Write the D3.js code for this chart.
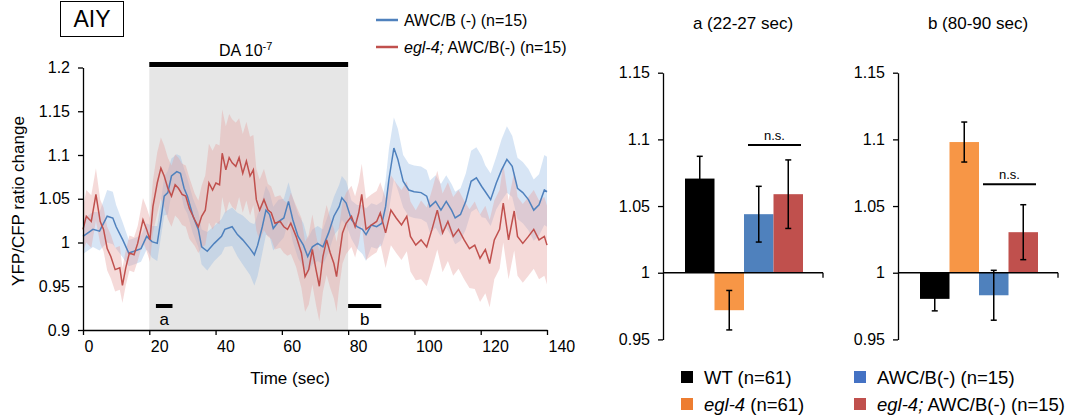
<!DOCTYPE html>
<html><head><meta charset="utf-8">
<script src="https://cdn.jsdelivr.net/npm/d3@7"></script>
<style>
html,body{margin:0;padding:0;background:#fff;}
svg{display:block;font-family:"Liberation Sans",Arial,sans-serif;}
</style></head>
<body>
<svg id="chart" width="1081" height="418"></svg>
<script>
// ---------------- DATA ----------------
const blueTime = [0,3,5,7.3,9,10,12,13.8,15.4,17.5,19.2,20.8,22.4,23.5,24.5,25.6,26.7,28.3,29.4,30.5,31.5,33.2,34.8,35.8,37.5,39.6,41.8,42.8,45,46.6,48.2,50.4,51.7,52.7,54.1,55.2,56.3,57.4,59,60.6,62,63.3,64.9,66.5,67.8,69.2,70.8,72.4,74.1,75.7,77.3,78.1,79.4,81,82.7,84.3,85.4,87,88.6,90.2,91.3,92.3,93.8,95,96.6,98.3,99.9,102,103.7,104.7,106.4,108,109.6,111.2,112.3,113.9,115.5,117.1,118.7,120.3,121.4,123,124.7,126.3,127.9,129.5,131.1,132.7,134.4,136,137.6,139.2,140];
const blueMean = [1.007,1.015,1.013,1.03,1.028,1.018,1.003,0.988,0.99,0.993,1.007,1.001,0.999,1.026,1.053,1.057,1.076,1.081,1.079,1.062,1.053,1.03,1.015,0.995,0.99,0.999,1.007,1.015,1.018,1.009,1.003,0.993,0.986,0.997,1.018,1.037,1.032,1.016,1.024,1.028,1.047,1.026,1.007,0.997,0.984,0.995,0.999,0.995,1.011,1.03,1.041,1.051,1.045,1.026,1.018,1.015,1.009,1.02,1.018,1.022,1.041,1.072,1.108,1.095,1.07,1.06,1.058,1.057,1.053,1.041,1.047,1.037,1.047,1.037,1.028,1.032,1.047,1.07,1.074,1.064,1.058,1.049,1.068,1.083,1.095,1.087,1.062,1.057,1.049,1.037,1.043,1.06,1.058];
const blueSem = [0.02,0.02,0.022,0.03,0.03,0.025,0.02,0.015,0.015,0.015,0.015,0.018,0.02,0.02,0.022,0.025,0.02,0.02,0.02,0.022,0.02,0.02,0.02,0.02,0.022,0.02,0.02,0.02,0.022,0.025,0.028,0.03,0.035,0.035,0.03,0.028,0.025,0.025,0.025,0.022,0.022,0.025,0.025,0.025,0.02,0.02,0.02,0.02,0.022,0.022,0.025,0.025,0.025,0.022,0.025,0.028,0.03,0.025,0.025,0.025,0.03,0.035,0.035,0.035,0.03,0.03,0.03,0.03,0.03,0.03,0.03,0.03,0.03,0.03,0.03,0.03,0.032,0.035,0.035,0.035,0.03,0.03,0.03,0.035,0.038,0.035,0.035,0.035,0.035,0.035,0.035,0.04,0.04];
const redTime = [0,1,2.5,3.9,5.2,6.2,7.3,8.4,9.7,11.1,11.9,12.9,14,15.4,16.5,18.1,19.2,20.2,21.1,22.4,23.5,24.5,25.6,26.7,27.8,28.8,29.9,31,32.1,33.7,34.8,35.8,36.9,38,39.1,40.1,41.2,42,43.1,44.1,45,46.1,47.1,48.2,49.3,50.4,51.4,52.3,53.3,54.6,55.8,56.8,57.9,59.5,60.6,61.7,62.7,64.3,65.9,67,68.1,69.2,70.3,71.3,72.4,73.5,74.6,75.7,76.5,77.3,78.3,79.4,81,82.1,83.2,84.1,85.4,87,88.6,89.7,91.3,92.9,94.5,96.1,97.7,98.8,100.4,102,103.7,105.3,106.9,108.5,110.1,111.7,113.3,115,116.6,118.2,119.8,121.4,122.7,124.1,125.7,126.8,128.4,130.1,131.1,132.7,134.4,136,137.6,139.2,140];
const redMean = [1.015,1.03,1.024,1.055,1.024,1.015,0.993,0.984,0.969,0.971,0.951,0.971,0.988,0.986,0.999,1.026,1.015,1.003,1.041,1.068,1.085,1.076,1.062,1.053,1.066,1.062,1.055,1.053,1.039,1.026,1.018,1.03,1.037,1.068,1.06,1.068,1.066,1.102,1.083,1.097,1.091,1.087,1.097,1.079,1.093,1.076,1.083,1.049,1.037,1.049,1.037,1.034,1.022,1.024,1.018,1.015,1.022,1.007,0.988,0.961,0.969,0.992,0.969,0.95,0.984,1.003,0.988,0.976,0.961,0.984,1.011,1.022,1.03,1.018,1.034,1.055,1.015,1.02,1.024,1.034,1.011,1.037,1.028,1.02,1.03,1.007,0.997,1.003,0.995,1.015,1.037,1.011,1.024,1.007,1.015,1.003,0.993,0.997,0.982,0.992,0.976,1.003,1.015,1.045,1.003,1.036,1.007,0.999,1.007,1.015,1.003,1.007,0.997];
const redSem = [0.025,0.03,0.03,0.03,0.025,0.025,0.025,0.025,0.025,0.025,0.02,0.02,0.02,0.02,0.02,0.025,0.025,0.025,0.03,0.035,0.035,0.035,0.035,0.035,0.035,0.035,0.035,0.035,0.035,0.03,0.03,0.035,0.04,0.045,0.045,0.045,0.045,0.05,0.05,0.05,0.05,0.05,0.045,0.045,0.045,0.045,0.04,0.035,0.035,0.035,0.03,0.03,0.03,0.03,0.03,0.03,0.035,0.035,0.04,0.04,0.04,0.04,0.04,0.04,0.04,0.04,0.04,0.04,0.04,0.035,0.035,0.035,0.035,0.035,0.035,0.035,0.035,0.035,0.035,0.035,0.04,0.04,0.04,0.04,0.04,0.04,0.04,0.045,0.045,0.045,0.045,0.045,0.045,0.045,0.045,0.045,0.045,0.05,0.05,0.05,0.05,0.045,0.045,0.045,0.045,0.045,0.045,0.045,0.045,0.045,0.045,0.045,0.045];

const traceYTicks = [0.9,0.95,1,1.05,1.1,1.15,1.2];
const traceXTicks = [0,20,40,60,80,100,120,140];
const stimulus = [20,80];        // DA application (sec)
const windowA = [22,27];         // analysis window a
const windowB = [80,90];         // analysis window b

const barGroups = ["WT (n=61)","egl-4 (n=61)","AWC/B(-) (n=15)","egl-4; AWC/B(-) (n=15)"];
const barsA = [1.0706,0.9719,1.0439,1.0589];
const errA  = [0.0167,0.0148,0.0209,0.0257];
const barsB = [0.9804,1.098,0.9831,1.0304];
const errB  = [0.009,0.015,0.0187,0.0206];
const nsLevelA = 1.0957;
const nsLevelB = 1.0663;
const barYTicks = [0.95,1,1.05,1.1,1.15];

// ---------------- DRAW ----------------
const svg = d3.select("#chart");
const FONT = '"Liberation Sans",Arial,sans-serif';
const blue = "#4F81BD", red = "#C0504D";

// AIY box
svg.append("rect").attr("x",60.5).attr("y",1.5).attr("width",63).attr("height",35)
  .attr("fill","none").attr("stroke","#000").attr("stroke-width",1);
svg.append("text").attr("x",92).attr("y",27).attr("text-anchor","middle")
  .attr("font-size",23).text("AIY");

const x = d3.scaleLinear().domain([0,140]).range([83,547]);
const y = d3.scaleLinear().domain([0.9,1.2]).range([330,67.5]);

// stimulus shading
svg.append("rect").attr("x",x(stimulus[0])).attr("width",x(stimulus[1])-x(stimulus[0]))
  .attr("y",y(1.2)).attr("height",y(0.9)-y(1.2)).attr("fill","#e6e6e6");
svg.append("rect").attr("x",x(stimulus[0])).attr("width",x(stimulus[1])-x(stimulus[0]))
  .attr("y",62).attr("height",5).attr("fill","#000");
const da = svg.append("text").attr("x",(x(stimulus[0])+x(stimulus[1]))/2-3).attr("y",56)
  .attr("text-anchor","middle").attr("font-size",16);
da.append("tspan").text("DA 10");
da.append("tspan").attr("dy",-6).attr("font-size",11).text("-7");

// bands
function bandArea(){
  return d3.area().x(d=>x(d.t)).y0(d=>y(d.v-d.e)).y1(d=>y(d.v+d.e));
}
const blueData = blueTime.map((t,i)=>({t,v:blueMean[i],e:blueSem[i]}));
const redData = redTime.map((t,i)=>({t,v:redMean[i],e:redSem[i]}));
svg.append("path").datum(blueData).attr("d",bandArea()).attr("fill","#8db4e2").attr("fill-opacity",0.35);
svg.append("path").datum(redData).attr("d",bandArea()).attr("fill","#e6a3a1").attr("fill-opacity",0.4);
const line = d3.line().x(d=>x(d.t)).y(d=>y(d.v));
svg.append("path").datum(blueData).attr("d",line).attr("fill","none").attr("stroke",blue).attr("stroke-width",1.5);
svg.append("path").datum(redData).attr("d",line).attr("fill","none").attr("stroke",red).attr("stroke-width",1.5);

// window markers
[[windowA,"a"],[windowB,"b"]].forEach(([w,l])=>{
  svg.append("rect").attr("x",x(w[0])).attr("width",x(w[1])-x(w[0])).attr("y",304).attr("height",4).attr("fill","#000");
  svg.append("text").attr("x",(x(w[0])+x(w[1]))/2).attr("y",325).attr("text-anchor","middle").attr("font-size",17).text(l);
});

// axes
const yAx = svg.append("g").attr("transform",`translate(${x(0)},0)`)
  .call(d3.axisLeft(y).tickValues(traceYTicks).tickSize(5).tickSizeOuter(0).tickPadding(8).tickFormat(d3.format("~g")));
const xAx = svg.append("g").attr("transform",`translate(0,${y(0.9)})`)
  .call(d3.axisBottom(x).tickValues(traceXTicks).tickSize(5).tickSizeOuter(0).tickPadding(6));
xAx.selectAll("text").attr("text-anchor","start").attr("dx",1);
[yAx,xAx].forEach(g=>{
  g.selectAll("text").attr("font-size",16).attr("font-family",FONT).attr("fill","#000");
  g.selectAll("path,line").attr("stroke","#000").attr("stroke-width",1.3);
});
svg.append("text").attr("transform","translate(24,201) rotate(-90)").attr("text-anchor","middle")
  .attr("font-size",17).text("YFP/CFP ratio change");
svg.append("text").attr("x",290).attr("y",384).attr("text-anchor","middle").attr("font-size",17).text("Time (sec)");

// top legend
const lg = [[blue,"AWC/B (-) (n=15)",null],[red," AWC/B(-) (n=15)","egl-4;"]];
lg.forEach(([c,t,it],i)=>{
  const yy = 20 + i*27;
  svg.append("line").attr("x1",376).attr("x2",398).attr("y1",yy).attr("y2",yy).attr("stroke",c).attr("stroke-width",2.5);
  const tx = svg.append("text").attr("x",404).attr("y",yy+6).attr("font-size",16);
  if(it) tx.append("tspan").attr("font-style","italic").text(it);
  tx.append("tspan").text(t);
});

// bar charts
const barColors = ["#000000","#F79646","#4F81BD","#C0504D"];
const legendColors = ["#000000","#ED7D31","#4472C4","#C0504D"];
function barChart(x0, title, vals, errs, nsLevel){
  const yb = d3.scaleLinear().domain([0.95,1.15]).range([339.4,72.7]);
  const xb = d3.scaleBand().domain(barGroups).range([x0+22,x0+140]).padding(0);
  svg.append("text").attr("x",x0+80).attr("y",29).attr("text-anchor","middle").attr("font-size",17).text(title);
  svg.selectAll(null).data(vals).enter().append("rect")
    .attr("x",(d,i)=>xb(barGroups[i])).attr("width",xb.bandwidth())
    .attr("y",d=>yb(Math.max(d,1))).attr("height",d=>Math.abs(yb(d)-yb(1)))
    .attr("fill",(d,i)=>barColors[i]);
  const ax = svg.append("g").attr("transform",`translate(${x0},0)`)
    .call(d3.axisLeft(yb).tickValues(barYTicks).tickSize(5).tickSizeOuter(0).tickPadding(8).tickFormat(d3.format("~g")));
  ax.selectAll("text").attr("font-size",16).attr("font-family",FONT).attr("fill","#000");
  ax.selectAll("path,line").attr("stroke","#000").attr("stroke-width",1.3);
  svg.append("line").attr("x1",x0).attr("x2",x0+160).attr("y1",yb(1)).attr("y2",yb(1)).attr("stroke","#000").attr("stroke-width",1.3);
  svg.append("line").attr("x1",x0+160).attr("x2",x0+160).attr("y1",yb(1)).attr("y2",yb(1)+5).attr("stroke","#000").attr("stroke-width",1.3);
  vals.forEach((v,i)=>{
    const cx = xb(barGroups[i])+xb.bandwidth()/2;
    const g = svg.append("g").attr("stroke","#000").attr("stroke-width",1.5);
    g.append("line").attr("x1",cx).attr("x2",cx).attr("y1",yb(v-errs[i])).attr("y2",yb(v+errs[i]));
    g.append("line").attr("x1",cx-3).attr("x2",cx+3).attr("y1",yb(v-errs[i])).attr("y2",yb(v-errs[i]));
    g.append("line").attr("x1",cx-3).attr("x2",cx+3).attr("y1",yb(v+errs[i])).attr("y2",yb(v+errs[i]));
  });
  const nx1 = xb(barGroups[2])+4, nx2 = xb(barGroups[3])+xb.bandwidth()-2;
  svg.append("line").attr("x1",nx1).attr("x2",nx2).attr("y1",yb(nsLevel)).attr("y2",yb(nsLevel)).attr("stroke","#000").attr("stroke-width",2);
  svg.append("text").attr("x",(nx1+nx2)/2).attr("y",yb(nsLevel)-5).attr("text-anchor","middle").attr("font-size",13).text("n.s.");
}
barChart(663,"a (22-27 sec)",barsA,errA,nsLevelA);
barChart(898,"b (80-90 sec)",barsB,errB,nsLevelB);

// bottom legend
const legPos = [[681,371],[681,398],[854,371],[854,398]];
barGroups.forEach((g,i)=>{
  const [lx,ly] = legPos[i];
  svg.append("rect").attr("x",lx).attr("y",ly).attr("width",12).attr("height",12).attr("fill",legendColors[i]);
  const t = svg.append("text").attr("x",lx+23).attr("y",ly+13).attr("font-size",18.5);
  if(g.startsWith("egl-4")){
    const rest = g.slice(5);
    t.append("tspan").attr("font-style","italic").text(rest.startsWith(";")?"egl-4;":"egl-4");
    t.append("tspan").text(rest.startsWith(";")?rest.slice(1):rest);
  } else t.text(g);
});
</script>
</body></html>
